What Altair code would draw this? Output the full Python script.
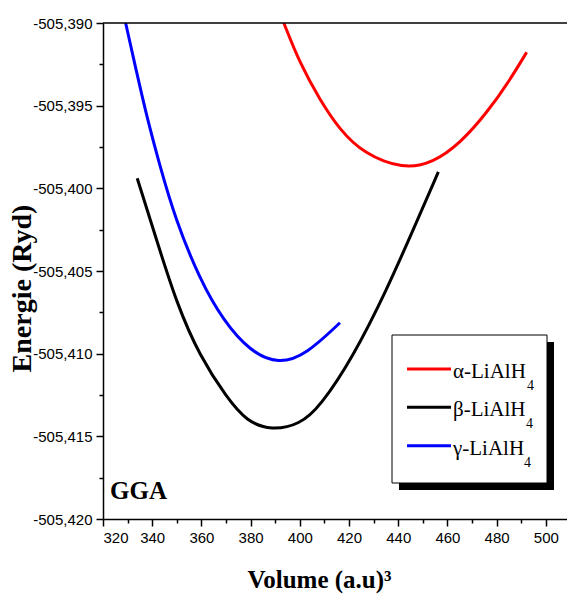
import altair as alt
import pandas as pd

# ---- data ----
alpha_vol = [393.5, 400.0, 408.2, 416.3, 425.8, 442.0, 454.2, 465.1, 475.9, 485.4, 492.2]
alpha_en = [-505.39000, -505.39244, -505.39466, -505.39647, -505.39788, -505.39885,
            -505.39845, -505.39728, -505.39546, -505.39345, -505.39177]

beta_vol = [333.9, 341.8, 349.9, 359.4, 370.3, 378.4, 388.5, 400.0, 408.2, 421.7, 435.3, 446.1, 456.3]
beta_en = [-505.39939, -505.40313, -505.40695, -505.41018, -505.41265, -505.41410, -505.41465,
           -505.41428, -505.41321, -505.41018, -505.40615, -505.40250, -505.39901]

gamma_vol = [329.2, 333.7, 337.8, 343.2, 349.3, 359.4, 368.9, 379.7, 391.3, 402.8, 416.3]
gamma_en = [-505.39000, -505.39300, -505.39567, -505.39869, -505.40181, -505.40554,
            -505.40800, -505.40985, -505.41065, -505.41003, -505.40813]

phases = ["α-LiAlH", "β-LiAlH", "γ-LiAlH"]
colors = ["#ff0000", "#000000", "#0000ff"]

x_ticks = [320, 330, 340, 350, 360, 370, 380, 390, 400, 410, 420, 430, 440, 450, 460, 470, 480, 490, 500]
y_ticks = [-505.4200, -505.4175, -505.4150, -505.4125, -505.4100, -505.4075, -505.4050,
           -505.4025, -505.4000, -505.3975, -505.3950, -505.3925, -505.3900]

rows = []
for name, vols, ens in zip(phases, [alpha_vol, beta_vol, gamma_vol], [alpha_en, beta_en, gamma_en]):
    for v, e in zip(vols, ens):
        rows.append({"volume": v, "energy": e, "phase": name})
df = pd.DataFrame(rows)

W, H = 464, 496
xscale = alt.Scale(domain=[320, 508.6], nice=False, zero=False)
yscale = alt.Scale(domain=[-505.420, -505.390], nice=False, zero=False)

x_axis = alt.Axis(
    values=x_ticks,
    labelExpr="datum.value % 20 == 0 ? datum.label : ''",
    tickSize={"condition": {"test": "datum.value % 20 == 0", "value": 7}, "value": 4},
    labelPadding=4,
    title="Volume (a.u)³",
    titleFont="Liberation Serif", titleFontSize=25, titleFontWeight="bold",
    titleX=216, titleY=68, titleBaseline="alphabetic", titleAnchor="middle",
    grid=False,
)
y_axis = alt.Axis(
    values=y_ticks,
    labelExpr="round(datum.value*10000) % 50 == 0 ? '-' + replace(format(abs(datum.value), '.3f'), '.', ',') : ''",
    tickSize={"condition": {"test": "round(datum.value*10000) % 50 == 0", "value": 7}, "value": 4},
    labelPadding=4,
    title="Energie (Ryd)",
    titleFont="Liberation Serif", titleFontSize=28, titleFontWeight="bold",
    titleX=-81, titleY=265, titleBaseline="middle", titleAngle=270, titleAnchor="middle",
    grid=False,
)

lines = alt.Chart(df).mark_line(strokeWidth=3, interpolate="basis", clip=True).encode(
    x=alt.X("volume:Q", scale=xscale, axis=x_axis),
    y=alt.Y("energy:Q", scale=yscale, axis=y_axis),
    color=alt.Color("phase:N", scale=alt.Scale(domain=phases, range=colors), legend=None),
    detail="phase:N",
)

top_rule = alt.Chart(pd.DataFrame({"v": [0]})).mark_rule(color="black", strokeWidth=1.5).encode(
    y=alt.datum(-505.390, scale=yscale)
)

gga = alt.Chart(pd.DataFrame({"v": [0]})).mark_text(
    text="GGA", font="Liberation Serif", fontSize=25, fontWeight="bold",
    align="left", baseline="alphabetic", color="black",
).encode(x=alt.value(7), y=alt.value(476))

blank = pd.DataFrame({"v": [0]})
shadow = alt.Chart(blank).mark_rect(color="black").encode(
    x=alt.value(296), x2=alt.value(451), y=alt.value(319), y2=alt.value(467)
)
box = alt.Chart(blank).mark_rect(fill="white", stroke="black", strokeWidth=1).encode(
    x=alt.value(289), x2=alt.value(444), y=alt.value(312), y2=alt.value(460)
)

legend_layers = [shadow, box]
row_y = [346, 384.3, 422.7]
sub_x = [424, 423, 421]
for name, col, yy, sx in zip(phases, colors, row_y, sub_x):
    legend_layers.append(
        alt.Chart(blank).mark_rule(color=col, strokeWidth=3).encode(
            x=alt.value(304), x2=alt.value(348), y=alt.value(yy)
        )
    )
    legend_layers.append(
        alt.Chart(blank).mark_text(
            text=name, font="Liberation Serif", fontSize=21, align="left",
            baseline="alphabetic", color="black",
        ).encode(x=alt.value(350), y=alt.value(yy + 9))
    )
    legend_layers.append(
        alt.Chart(blank).mark_text(
            text="4", font="Liberation Serif", fontSize=14, align="left",
            baseline="alphabetic", color="black",
        ).encode(x=alt.value(sx), y=alt.value(yy + 21))
    )

chart = alt.layer(lines, top_rule, gga, *legend_layers).properties(
    width=W, height=H,
    autosize=alt.AutoSizeParams(type="none"),
    padding={"left": 103, "top": 23, "right": 0, "bottom": 76},
    background="white",
).configure_view(stroke=None).configure_axis(
    domainColor="black", domainWidth=1.5, tickColor="black", tickWidth=1.5,
    labelColor="black", labelFont="Liberation Sans", labelFontSize=15,
    titleColor="black",
)

chart.save("out.html", embed_options={"renderer": "svg", "actions": False})
